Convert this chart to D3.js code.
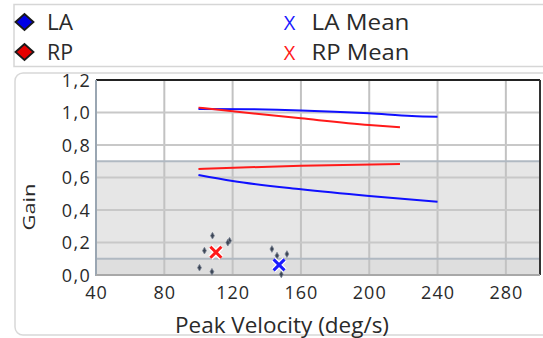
<!DOCTYPE html>
<html><head><meta charset="utf-8">
<script src="https://cdn.jsdelivr.net/npm/d3@7"></script>
<style>html,body{margin:0;padding:0;background:#fff;overflow:hidden}</style>
</head><body>
<svg id="c" width="543" height="338"></svg>
<script>
// ---- data ----
const xTicks = [40, 80, 120, 160, 200, 240, 280];
const yTicks = [0.0, 0.2, 0.4, 0.6, 0.8, 1.0, 1.2];
const laUpper = [[100,1.022],[130,1.02],[160,1.013],[200,0.995],[225,0.979],[240,0.974]];
const laLower = [[100,0.615],[120,0.578],[160,0.527],[200,0.486],[240,0.451]];
const rpUpper = [[100,1.03],[160,0.964],[200,0.923],[218,0.909]];
const rpLower = [[100,0.652],[160,0.673],[218,0.683]];
const rpPoints = [[108.2,0.242],[118.2,0.211],[117.2,0.199],[103.5,0.150],[100.6,0.045],[107.9,0.02]];
const laPoints = [[143,0.16],[146,0.119],[151.8,0.129],[148.5,0.004]];
const laMean = [147.2, 0.062];
const rpMean = [110.2, 0.14];
const bandLines = [0.7, 0.1];
const legendItems = [
  {label:"LA", kind:"diamond", color:"#0000e6", col:0, row:0},
  {label:"RP", kind:"diamond", color:"#e60000", col:0, row:1},
  {label:"LA Mean", kind:"x", color:"#1a1aff", col:1, row:0},
  {label:"RP Mean", kind:"x", color:"#ff1a1a", col:1, row:1}
];

const svg = d3.select("#c");
const font = "'Open Sans', sans-serif";
const x = d3.scaleLinear().domain([40, 300]).range([96, 540]);
const y = d3.scaleLinear().domain([0, 1.2]).range([275, 80]);

// legend box
svg.append("rect").attr("x",14).attr("y",4.5).attr("width",540).attr("height",62)
  .attr("fill","#fff").attr("stroke","#d6d6d6").attr("stroke-width",1.5);
// plot panel
svg.append("rect").attr("x",15).attr("y",73).attr("width",545).attr("height",262).attr("rx",8)
  .attr("fill","#fff").attr("stroke","#d8d8d8").attr("stroke-width",1.5);

// legend
const lg = svg.append("g");
legendItems.forEach(d => {
  const cy = d.row === 0 ? 22 : 52;
  if (d.kind === "diamond") {
    lg.append("path").attr("d", `M${24.5-9},${cy} L24.5,${cy-8} L${24.5+9},${cy} L24.5,${cy+8} Z`)
      .attr("fill", d.color).attr("stroke","#1a1a1a").attr("stroke-width",1.8);
    lg.append("text").attr("x",47).attr("y",cy+8).attr("font-family",font).attr("font-size",21)
      .attr("fill","#2a2a2a").attr("textLength",26).attr("lengthAdjust","spacingAndGlyphs").text(d.label);
  } else {
    lg.append("text").attr("x",289.5).attr("y",cy+7.5).attr("text-anchor","middle").attr("font-family",font)
      .attr("font-size",20).attr("fill",d.color).text("X");
    lg.append("text").attr("x",311.5).attr("y",cy+8).attr("font-family",font).attr("font-size",21)
      .attr("fill","#2a2a2a").attr("textLength",98).attr("lengthAdjust","spacingAndGlyphs").text(d.label);
  }
});

// plot background
svg.append("rect").attr("x",x(40)).attr("y",y(1.2)).attr("width",x(300)-x(40)).attr("height",y(0)-y(1.2)).attr("fill","#fff");
svg.append("rect").attr("x",x(40)).attr("y",y(0.7)).attr("width",x(300)-x(40)).attr("height",y(0.1)-y(0.7)).attr("fill","#e6e6e6");
svg.append("rect").attr("x",x(40)).attr("y",y(0.1)).attr("width",x(300)-x(40)).attr("height",y(0)-y(0.1)).attr("fill","#dedede");

// grid
const grid = svg.append("g");
xTicks.filter(t=>t>40).forEach(t => grid.append("line").attr("x1",x(t)).attr("x2",x(t)).attr("y1",y(1.2)).attr("y2",y(0))
  .attr("stroke","#c2c2c2").attr("stroke-width",2));
yTicks.filter(t=>t>0 && t<1.2).forEach(t => grid.append("line").attr("x1",x(40)).attr("x2",x(300)).attr("y1",y(t)).attr("y2",y(t))
  .attr("stroke","#c8c8c8").attr("stroke-width",2));
bandLines.forEach(t => grid.append("line").attr("x1",x(40)).attr("x2",x(300)).attr("y1",y(t)).attr("y2",y(t))
  .attr("stroke","#b0b9c2").attr("stroke-width",2));

// frame
svg.append("line").attr("x1",x(40)).attr("x2",x(300)).attr("y1",y(1.2)).attr("y2",y(1.2)).attr("stroke","#222").attr("stroke-width",2);
svg.append("line").attr("x1",x(300)).attr("x2",x(300)).attr("y1",y(1.2)).attr("y2",y(0)).attr("stroke","#333").attr("stroke-width",2);
svg.append("line").attr("x1",x(40)).attr("x2",x(40)).attr("y1",y(1.2)).attr("y2",y(0)+1).attr("stroke","#9aa6b2").attr("stroke-width",2);
svg.append("line").attr("x1",x(40)).attr("x2",x(300)).attr("y1",y(0)).attr("y2",y(0)).attr("stroke","#a8a8a8").attr("stroke-width",2);

// axes labels
const xAxis = d3.axisBottom(x).tickValues(xTicks).tickSize(0).tickPadding(0).tickFormat(d3.format("d"));
const gx = svg.append("g").attr("transform","translate(0,286)").call(xAxis);
gx.select(".domain").remove();
gx.selectAll("text").attr("font-family",font).attr("font-size",18).attr("fill","#2a2a2a")
  .attr("letter-spacing","1px").attr("dy","0.72em");
const yAxis = d3.axisLeft(y).tickValues(yTicks).tickSize(0).tickPadding(0).tickFormat(d => d3.format(".1f")(d).replace(".", ","));
const gy = svg.append("g").attr("transform","translate(91,0)").call(yAxis);
gy.select(".domain").remove();
gy.selectAll("text").attr("font-family",font).attr("font-size",18).attr("fill","#2a2a2a")
  .attr("letter-spacing","1.3px").attr("dy","0.36em");

svg.append("text").attr("x",282).attr("y",333).attr("text-anchor","middle").attr("font-family",font).attr("font-size",21)
  .attr("fill","#2a2a2a").attr("textLength",214).attr("lengthAdjust","spacingAndGlyphs").text("Peak Velocity (deg/s)");
svg.append("text").attr("transform","translate(35,207) rotate(-90)").attr("text-anchor","middle").attr("font-family",font)
  .attr("font-size",17).attr("fill","#2a2a2a").attr("textLength",47).attr("lengthAdjust","spacingAndGlyphs").text("Gain");

// lines
const line = d3.line().x(d=>x(d[0])).y(d=>y(d[1])).curve(d3.curveMonotoneX);
[[laUpper,"#1010ff"],[laLower,"#1010ff"],[rpUpper,"#ff1a1a"],[rpLower,"#ff1a1a"]].forEach(([data,c]) => {
  svg.append("path").datum(data).attr("d",line).attr("fill","none").attr("stroke",c).attr("stroke-width",2);
});

// points
const pts = svg.append("g");
rpPoints.concat(laPoints).forEach(p => {
  pts.append("path").attr("transform",`translate(${x(p[0])},${y(p[1])})`)
    .attr("d", d3.symbol().type(d3.symbolDiamond).size(13)()).attr("fill","#3c4656").attr("stroke","#7a8393").attr("stroke-width",0.8);
});

// means
function drawX(p, c) {
  const cx = x(p[0]), cy = y(p[1]), s = 5.5;
  const d = `M${cx-s},${cy-s}L${cx+s},${cy+s}M${cx-s},${cy+s}L${cx+s},${cy-s}`;
  svg.append("path").attr("d",d).attr("stroke","#fff").attr("stroke-width",5.5).attr("fill","none");
  svg.append("path").attr("d",d).attr("stroke",c).attr("stroke-width",3).attr("fill","none");
}
drawX(rpMean, "#ff1a1a");
drawX(laMean, "#1a1aff");
</script>
</body></html>
